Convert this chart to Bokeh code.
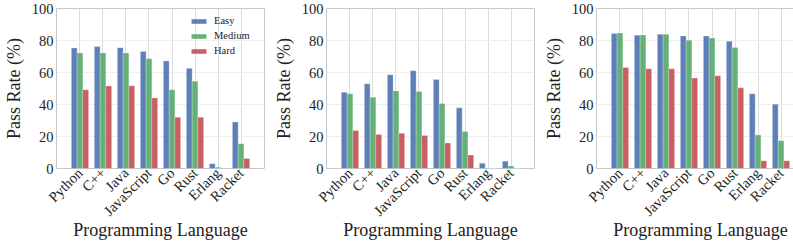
import math
from bokeh.plotting import figure
from bokeh.layouts import row
from bokeh.models import ColumnDataSource, FactorRange, Range1d, FixedTicker, Legend, LegendItem
from bokeh.transform import dodge
from bokeh.embed import file_html
from bokeh.resources import INLINE

languages = ["Python", "C++", "Java", "JavaScript", "Go", "Rust", "Erlang", "Racket"]
levels = ["Easy", "Medium", "Hard"]
colors = ["#4C72B0", "#55A868", "#C44E52"]

p1_easy = [75.3, 76.2, 75.5, 73.2, 67.2, 62.6, 2.9, 29.1]
p1_medium = [72.2, 72.2, 72.2, 68.6, 49.2, 54.6, 0.8, 15.5]
p1_hard = [49.2, 51.5, 51.7, 44.1, 32.0, 32.0, 0.2, 6.3]

p2_easy = [47.7, 52.9, 58.6, 61.1, 55.6, 37.9, 3.3, 4.6]
p2_medium = [46.7, 44.6, 48.5, 48.1, 40.6, 23.2, 0.2, 1.5]
p2_hard = [23.8, 21.3, 22.0, 20.7, 15.9, 8.4, 0.0, 0.0]

p3_easy = [84.3, 83.3, 83.9, 82.8, 82.8, 79.5, 46.7, 40.2]
p3_medium = [84.7, 83.5, 83.9, 80.1, 81.6, 75.7, 20.9, 17.4]
p3_hard = [63.2, 62.3, 62.3, 56.5, 57.9, 50.4, 4.8, 4.8]

y_ticks = [0, 20, 40, 60, 80, 100]

FONT = "'Liberation Serif', 'Times New Roman', serif"
TXT = "#222222"


def make_panel(easy, medium, hard, left_border, show_legend):
    src = ColumnDataSource(dict(lang=languages, Easy=easy, Medium=medium, Hard=hard))
    p = figure(x_range=FactorRange(*languages, range_padding=0.52, range_padding_units="absolute"),
               y_range=Range1d(0, 100),
               frame_width=208, frame_height=160,
               output_backend="svg", toolbar_location=None,
               min_border_left=left_border, min_border_right=6,
               min_border_top=8, min_border_bottom=0)
    renderers = []
    offsets = [-0.25, 0.0, 0.25]
    for lvl, col, off in zip(levels, colors, offsets):
        r = p.vbar(x=dodge("lang", off, range=p.x_range), top=lvl, width=0.25, source=src,
                   fill_color=col, fill_alpha=0.9, line_color="white", line_width=0.4, line_alpha=0.6)
        renderers.append(r)
    p.yaxis.ticker = FixedTicker(ticks=y_ticks)
    p.xgrid.grid_line_color = "#dcdcdc"
    p.xgrid.grid_line_width = 1
    p.ygrid.grid_line_color = "#efefef"
    p.ygrid.grid_line_width = 1
    p.outline_line_color = "#c8c8c8"
    p.outline_line_width = 1
    for ax in (p.xaxis[0], p.yaxis[0]):
        ax.axis_line_color = None
        ax.major_tick_line_color = None
        ax.minor_tick_line_color = None
        ax.major_label_text_font = FONT
        ax.major_label_text_font_size = "14.5px"
        ax.major_label_text_color = TXT
        ax.axis_label_text_font = FONT
        ax.axis_label_text_font_size = "18px"
        ax.axis_label_text_font_style = "normal"
        ax.axis_label_text_color = TXT
    p.xaxis.major_label_orientation = math.pi / 4
    p.xaxis.major_label_standoff = 2
    p.yaxis.major_label_standoff = 3
    p.xaxis.axis_label_standoff = -8
    p.yaxis.axis_label_standoff = 5
    p.xaxis.major_tick_out = 0
    p.yaxis.major_tick_out = 0
    p.xaxis.major_tick_in = 0
    p.yaxis.major_tick_in = 0
    p.xaxis.axis_label = "Programming Language"
    p.yaxis.axis_label = "Pass Rate (%)"
    if show_legend:
        leg = Legend(items=[LegendItem(label=l, renderers=[r]) for l, r in zip(levels, renderers)],
                     location=(133, 112), background_fill_alpha=0, border_line_color=None,
                     label_text_font=FONT, label_text_font_size="10.5px", label_text_color=TXT,
                     glyph_width=19, glyph_height=6, label_height=9, spacing=4,
                     label_standoff=6, padding=4, margin=0)
        p.add_layout(leg)
    return p


f1 = make_panel(p1_easy, p1_medium, p1_hard, 44, True)
f2 = make_panel(p2_easy, p2_medium, p2_hard, 48, False)
f3 = make_panel(p3_easy, p3_medium, p3_hard, 48, False)

layout = row(f1, f2, f3, spacing=0)
open("out.html", "w").write(file_html(layout, INLINE))
